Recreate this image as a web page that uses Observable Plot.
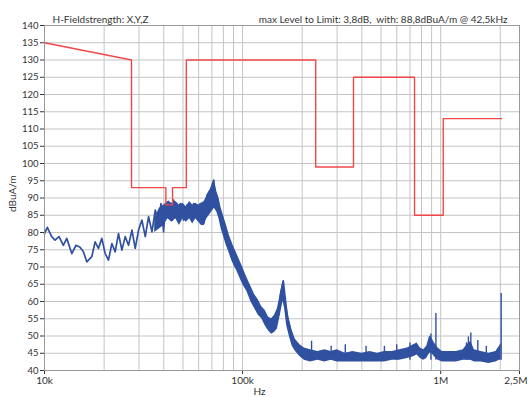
<!DOCTYPE html>
<html>
<head>
<meta charset="utf-8">
<script src="https://cdn.jsdelivr.net/npm/d3@7"></script>
<script src="https://cdn.jsdelivr.net/npm/@observablehq/plot@0.6"></script>
<style>
  html, body { margin: 0; padding: 0; background: #fff; }
  #chart svg { display: block; }
</style>
</head>
<body>
<div id="chart"></div>
<script>
// ---- Text ----
const titleLeft = "H-Fieldstrength: X,Y,Z";
const titleRight = "max Level to Limit: 3,8dB,  with: 88,8dBuA/m @ 42,5kHz";
const yLabel = "dBuA/m";
const xLabel = "Hz";

// ---- Ticks ----
const yTicks = [40,45,50,55,60,65,70,75,80,85,90,95,100,105,110,115,120,125,130,135,140];
const xTickValues = [1e4, 1e5, 1e6, 2.5e6];
const xTickLabels = ["10k", "100k", "1M", "2,5M"];
const xGrid = [2e4,3e4,4e4,5e4,6e4,7e4,8e4,9e4,1e5,2e5,3e5,4e5,5e5,6e5,7e5,8e5,9e5,1e6,2e6];

// ---- Limit line (Hz, dBuA/m) ----
const limitF = [1e4, 27.5e3, 27.5e3, 41e3, 41e3, 44.3e3, 44.3e3, 52e3, 52e3, 234e3, 234e3, 363e3, 363e3, 738e3, 738e3, 1.03e6, 1.03e6, 2.03e6];
const limitV = [135, 130, 93, 93, 88, 88, 93, 93, 130, 130, 99, 99, 125, 125, 85, 85, 113, 113];

// ---- Measured trace, sampled peaks/troughs (Hz, dBuA/m) ----
const traceF = [10.0e3,10.33e3,10.87e3,11.3e3,11.84e3,12.45e3,12.95e3,13.73e3,14.43e3,15.12e3,15.72e3,16.35e3,17.33e3,18.01e3,18.72e3,19.47e3,20.24e3,21.03e3,21.89e3,22.74e3,23.63e3,24.59e3,25.55e3,26.56e3,27.63e3,28.71e3,29.84e3,31.04e3,32.26e3,33.52e3,34.87e3,36.24e3,37.66e3,38.73e3,39.92e3,40.72e3,42.31e3,44.03e3,44.86e3,46.67e3,48.5e3,50.4e3,52.44e3,54.5e3,56.62e3,58.9e3,61.22e3,63.62e3,66.22e3,68.79e3,71.5e3,72.93e3,75.79e3,78.86e3,81.95e3,85.16e3,88.6e3,92.06e3,95.68e3,99.54e3,103.4e3,107.5e3,111.8e3,116.2e3,120.8e3,125.7e3,130.6e3,135.7e3,141.2e3,146.7e3,152.5e3,155.5e3,160.5e3,168.2e3,178.2e3,188.9e3,204e3];
const traceV = [79.7,81.5,78.8,77.8,78.8,76.3,78.3,73.9,76.3,75.7,74.4,71.5,73,77.3,75.4,78.3,73.9,72,76.8,74.4,79.7,74.9,78.8,76.3,80.7,75.4,80.7,83.6,78.8,84.6,80.2,86.5,82.6,88.4,80.2,87.5,89,83.6,89.4,84.6,88.4,83.6,88,84.6,88.4,84.6,88.4,82.6,90.9,92.3,95.2,90.4,86.5,83.6,78.8,74.9,72,70,69,66.2,64.7,62.8,60.8,58.9,57.4,56,54.5,53.6,52.6,54,56.5,62.3,66,55.5,49.7,46.8,43.9];

// ---- Dense noise band envelope (Hz, low, high) ----
const bandF  = [36e3,38e3,40e3,42e3,44e3,46e3,48e3,50e3,52e3,54e3,56e3,58e3,60e3,62e3,64e3,66e3,68e3,70e3,72e3,74e3,76e3,78e3,80e3,83e3,86e3,90e3,95e3,100e3,105e3,110e3,115e3,120e3,125e3,130e3,135e3,140e3,145e3,150e3,155e3,160e3,163e3,167e3,172e3,178e3,185e3,195e3,205e3,220e3,240e3,260e3,280e3,300e3,330e3,360e3,400e3,440e3,480e3,520e3,570e3,620e3,680e3,730e3,760e3,790e3,820e3,850e3,880e3,900e3,930e3,970e3,1.02e6,1.1e6,1.2e6,1.3e6,1.36e6,1.42e6,1.48e6,1.6e6,1.75e6,1.9e6,1.98e6,2.02e6];
const bandLo = [80,81,82,84,83,84,82,84,83,84,82.5,84,83,82,82,84,85,86,87,86,84,81,79,76,74,71,68,65,63,60,58,56,55,53,51.5,50.5,51,52,56,60,58,53,50,47,45.5,44,43,42.5,43,42.5,43,42.5,42.5,42.5,42.5,42.5,42.5,42.5,43,43,43.5,44,44.5,43.5,43,43.5,45,45,44,43,42.5,42.5,42.5,43,43,43,42.5,42.5,42,42.5,43,43];
const bandHi = [84,87,88,89,88.5,89,88,88.5,87.5,89,88,88.5,88,88.5,89,90.5,92,93,95,92,90,87,85,82,79,76,73,70,67,64.5,62,60.5,58.5,57.5,55.5,55,56,58,62,66,64,59,55,51.5,49,47.5,46.5,46,45.5,46,45.5,46,45,45.5,45,45.5,45,45.5,45.5,46,46.5,47.5,48,46.5,46,47,50,49.5,48,46.5,45.5,45.5,45.5,46,47.5,48.5,46,45.5,45,45.5,47,48];

// ---- Narrow spikes above the noise floor (Hz, top dBuA/m) ----
const spikeF = [223e3, 280e3, 330e3, 420e3, 520e3, 600e3, 700e3, 893e3, 946e3, 1.35e6, 1.38e6, 1.42e6, 1.54e6, 1.7e6, 2.02e6];
const spikeV = [48.5, 47, 47.5, 47, 47, 47.5, 48, 50.6, 56.5, 48, 49.7, 50.9, 48.7, 47, 62.3];

const limit = limitF.map((f, i) => ({f, v: limitV[i]}));
const trace = traceF.map((f, i) => ({f, v: traceV[i]}));
const band = bandF.map((f, i) => ({f, lo: bandLo[i], hi: bandHi[i]}));
const spikes = spikeF.map((f, i) => ({f, v: spikeV[i]}));
const xt = xTickValues.map((v, i) => ({v, label: xTickLabels[i]}));

const blue = "#3050a0";
const red = "#f04848";
const grid = "#c4c4c4";

const chart = Plot.plot({
  width: 528,
  height: 397,
  marginLeft: 44,
  marginRight: 9,
  marginTop: 25,
  marginBottom: 27,
  style: {fontFamily: "Lato, 'Open Sans', sans-serif", fontSize: "9.5px", color: "#333", background: "#fff"},
  x: {type: "log", domain: [1e4, 2.5e6], ticks: xTickValues, tickFormat: () => "", tickSize: 4, label: null},
  y: {domain: [40, 140], ticks: yTicks, tickSize: 4, tickPadding: 2, label: null},
  marks: [
    Plot.ruleY(yTicks, {stroke: grid, strokeWidth: 1}),
    Plot.ruleX(xGrid, {stroke: grid, strokeWidth: 1}),
    Plot.areaY(band, {x: "f", y1: "lo", y2: "hi", fill: blue, curve: "linear"}),
    Plot.lineY(trace, {x: "f", y: "v", stroke: blue, strokeWidth: 1.7}),
    Plot.ruleX(spikes, {x: "f", y1: 43, y2: "v", stroke: blue, strokeWidth: 1.4}),
    Plot.line(limit, {x: "f", y: "v", stroke: red, strokeWidth: 1.4}),
    Plot.frame({stroke: "#999"}),
    Plot.text(xt.slice(0, 3), {x: "v", frameAnchor: "bottom", dy: 13, text: "label", fill: "#333", fontSize: 10}),
    Plot.text(xt.slice(3), {x: "v", frameAnchor: "bottom", dy: 13, dx: 8, textAnchor: "end", text: "label", fill: "#333", fontSize: 10}),
    Plot.text([titleLeft], {frameAnchor: "top-left", dx: 8, dy: -10, text: d => d, fontSize: 10, fill: "#333"}),
    Plot.text([titleRight], {frameAnchor: "top-right", dx: -12, dy: -10, text: d => d, fontSize: 10, fill: "#333"}),
    Plot.text([yLabel], {frameAnchor: "left", dx: -32, dy: 14, rotate: -90, text: d => d, fontSize: 10, fill: "#333"}),
    Plot.text([xLabel], {frameAnchor: "bottom-left", dx: 209, dy: 24, text: d => d, fontSize: 10, fill: "#333"})
  ]
});
document.getElementById("chart").appendChild(chart);
</script>
</body>
</html>
